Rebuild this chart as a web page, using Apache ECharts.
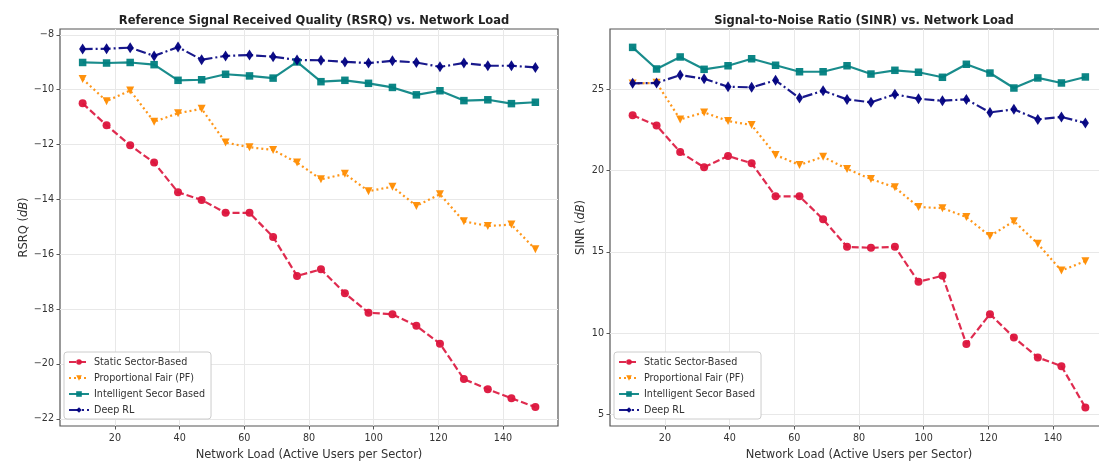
<!DOCTYPE html>
<html>
<head>
<meta charset="utf-8">
<title>RSRQ / SINR vs. Network Load</title>
<script src="https://cdn.jsdelivr.net/npm/echarts@6/dist/echarts.min.js"></script>
<style>
  html, body { margin: 0; padding: 0; background: #fff; }
  #chart { width: 1099px; height: 463px; }
</style>
</head>
<body>
<div id="chart"></div>
<script>
// network load (active users per sector)
const loadX = [10, 17.4, 24.7, 32.1, 39.5, 46.8, 54.2, 61.6, 68.9, 76.3, 83.7, 91.1, 98.4, 105.8, 113.2, 120.5, 127.9, 135.3, 142.6, 150];
const xTicks = [20, 40, 60, 80, 100, 120, 140];

// RSRQ (dB)
const rsrqStatic = [-10.50, -11.30, -12.03, -12.66, -13.74, -14.02, -14.49, -14.49, -15.37, -16.79, -16.55, -17.42, -18.13, -18.19, -18.61, -19.26, -20.55, -20.92, -21.25, -21.57];
const rsrqPF = [-9.61, -10.42, -10.03, -11.17, -10.86, -10.70, -11.93, -12.10, -12.20, -12.66, -13.27, -13.07, -13.70, -13.54, -14.24, -13.81, -14.80, -14.97, -14.92, -15.82];
const rsrqIntel = [-9.01, -9.03, -9.01, -9.09, -9.66, -9.64, -9.44, -9.50, -9.58, -8.99, -9.71, -9.66, -9.77, -9.92, -10.19, -10.04, -10.40, -10.37, -10.51, -10.46];
const rsrqDeep = [-8.52, -8.51, -8.47, -8.77, -8.45, -8.91, -8.77, -8.74, -8.80, -8.92, -8.93, -8.99, -9.03, -8.95, -9.01, -9.17, -9.03, -9.13, -9.13, -9.19];
const rsrqTicks = [-22, -20, -18, -16, -14, -12, -10, -8];

// SINR (dB)
const sinrStatic = [23.40, 22.78, 21.14, 20.20, 20.90, 20.45, 18.42, 18.42, 17.00, 15.31, 15.25, 15.31, 13.16, 13.53, 9.33, 11.17, 9.74, 8.51, 7.97, 5.43];
const sinrPF = [25.35, 25.40, 23.15, 23.58, 23.05, 22.80, 20.96, 20.35, 20.85, 20.10, 19.48, 18.97, 17.76, 17.69, 17.14, 15.97, 16.89, 15.50, 13.85, 14.43];
const sinrIntel = [27.58, 26.25, 26.99, 26.23, 26.45, 26.88, 26.48, 26.08, 26.08, 26.45, 25.94, 26.17, 26.05, 25.74, 26.54, 26.00, 25.08, 25.70, 25.39, 25.76];
const sinrDeep = [25.37, 25.39, 25.88, 25.65, 25.16, 25.12, 25.55, 24.46, 24.91, 24.38, 24.20, 24.69, 24.42, 24.30, 24.38, 23.58, 23.77, 23.15, 23.30, 22.93];
const sinrTicks = [5, 10, 15, 20, 25];

const names = ['Static Sector-Based', 'Proportional Fair (PF)', 'Intelligent Secor Based', 'Deep RL'];

const FONT = '"DejaVu Sans", sans-serif';
const zip = (xs, ys) => xs.map((x, i) => [x, ys[i]]);
const minus = v => String(v).replace('-', '\u2212');

// style per method: red dashed circles, orange dotted triangles, teal solid squares, navy dash-dot diamonds
const styles = [
  { color: '#DC143C', dash: [7, 3], symbol: 'circle', size: 8 },
  { color: '#FF8C00', dash: [2, 3], symbol: 'triangle', size: 8, rotate: 180 },
  { color: '#008080', dash: 'solid', symbol: 'rect', size: 7.5 },
  { color: '#000080', dash: [10, 3, 2, 3], symbol: 'diamond', size: [7, 11] }
];

function makeSeries(idx, lists) {
  return lists.map((ys, i) => ({
    name: names[i],
    type: 'line',
    xAxisIndex: idx,
    yAxisIndex: idx,
    data: zip(loadX, ys),
    symbol: styles[i].symbol,
    symbolSize: styles[i].size,
    symbolRotate: styles[i].rotate || 0,
    showAllSymbol: true,
    lineStyle: { color: styles[i].color, width: 2.2, type: styles[i].dash, opacity: 0.9 },
    itemStyle: { color: styles[i].color, opacity: 0.95 },
    emphasis: { disabled: true },
    animation: false
  }));
}

function xAxis(idx) {
  return {
    type: 'value', gridIndex: idx, min: 3, max: 157,
    name: 'Network Load (Active Users per Sector)',
    nameLocation: 'middle', nameGap: 23,
    nameTextStyle: { fontFamily: FONT, fontSize: 11.5, color: '#333' },
    axisLine: { show: false },
    axisTick: { show: true, customValues: xTicks, length: 3.5, lineStyle: { color: '#555' } },
    axisLabel: { customValues: xTicks, fontFamily: FONT, fontSize: 9.6, color: '#333', margin: 7 },
    splitLine: { show: true, lineStyle: { color: '#e8e8e8', width: 1 } }
  };
}

function yAxis(idx, min, max, ticks, name, gap) {
  return {
    type: 'value', gridIndex: idx, min: min, max: max,
    name: name, nameLocation: 'middle', nameGap: gap,
    nameTextStyle: {
      fontFamily: FONT, fontSize: 11.5, color: '#333',
      rich: { i: { fontFamily: FONT, fontSize: 11.5, fontStyle: 'italic', color: '#333' } }
    },
    axisLine: { show: false },
    axisTick: { show: true, customValues: ticks, length: 3.5, lineStyle: { color: '#555' } },
    axisLabel: { customValues: ticks, fontFamily: FONT, fontSize: 9.6, color: '#333', margin: 6, formatter: minus },
    splitLine: { show: true, lineStyle: { color: '#e8e8e8', width: 1 } }
  };
}

function legend(left) {
  return {
    data: names, orient: 'vertical', left: left, top: 352,
    backgroundColor: '#fff', borderColor: '#cccccc', borderWidth: 1, borderRadius: 3,
    padding: [5, 6, 4, 4], itemGap: 6, itemWidth: 20, itemHeight: 7, itemTextGap: 7,
    textStyle: { fontFamily: FONT, fontSize: 9.6, color: '#333' },
    selectedMode: false
  };
}

const chart = echarts.init(document.getElementById('chart'), null, { renderer: 'canvas' });
chart.setOption({
  backgroundColor: '#fff',
  animation: false,
  title: [
    { text: 'Reference Signal Received Quality (RSRQ) vs. Network Load', left: 309, top: 10, textAlign: 'center',
      textStyle: { fontFamily: FONT, fontSize: 11.5, fontWeight: 'bold', color: '#222' } },
    { text: 'Signal-to-Noise Ratio (SINR) vs. Network Load', left: 859, top: 10, textAlign: 'center',
      textStyle: { fontFamily: FONT, fontSize: 11.5, fontWeight: 'bold', color: '#222' } }
  ],
  legend: [legend(64), legend(614)],
  grid: [
    { left: 60, width: 498, top: 29, bottom: 37, outerBoundsMode: 'none',
      show: true, borderColor: '#555', borderWidth: 1.2 },
    // the right panel runs past the picture edge, so its right border is cut off
    { left: 610, width: 498, top: 29, bottom: 37, outerBoundsMode: 'none',
      show: true, borderColor: '#555', borderWidth: 1.2 }
  ],
  xAxis: [xAxis(0), xAxis(1)],
  yAxis: [
    yAxis(0, -22.26, -7.79, rsrqTicks, 'RSRQ ({i|dB})', 30),
    yAxis(1, 4.29, 28.71, sinrTicks, 'SINR ({i|dB})', 23)
  ],
  series: makeSeries(0, [rsrqStatic, rsrqPF, rsrqIntel, rsrqDeep])
    .concat(makeSeries(1, [sinrStatic, sinrPF, sinrIntel, sinrDeep]))
});
</script>
</body>
</html>
